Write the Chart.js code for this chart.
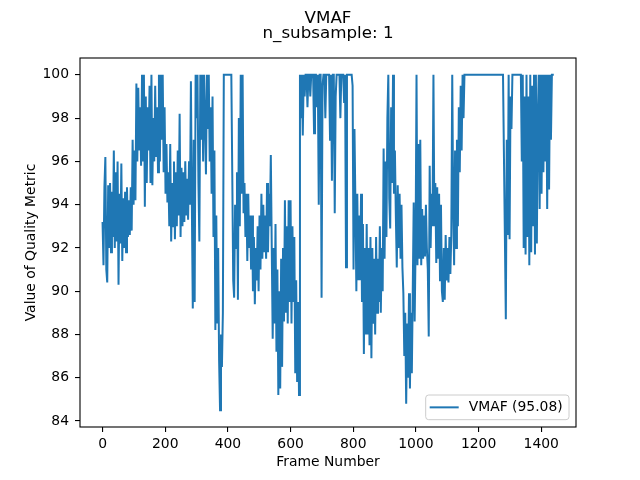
<!DOCTYPE html>
<html>
<head>
<meta charset="utf-8">
<script src="https://cdn.jsdelivr.net/npm/chart.js@4.4.0/dist/chart.umd.min.js"></script>
<style>
  html, body { margin: 0; padding: 0; background: #fff; }
  #wrap { width: 640px; height: 480px; }
</style>
</head>
<body>
<div id="wrap"><canvas id="vmafChart" width="640" height="480"></canvas></div>
<script>
// VMAF per frame, every 3 frames (0 .. 1440), one row = 60 frames
const vmaf = [
  93.2, 91.2, 94.8, 96.2, 91.0, 90.4, 94.9, 92.0, 95.0, 91.8, 94.6, 92.5, 96.5, 92.0, 95.5, 92.3, 96.0, 90.3, 94.5, 92.2,
  95.9, 91.4, 94.3, 92.0, 94.6, 91.8, 94.8, 92.5, 94.2, 92.6, 94.8, 92.8, 97.0, 94.0, 96.5, 94.2, 99.6, 96.0, 99.4, 96.5,
  98.5, 95.8, 100, 96.0, 100, 93.9, 99.0, 95.0, 98.5, 96.5, 99.5, 95.0, 100, 94.9, 98.0, 96.0, 99.5, 96.2, 98.5, 95.5,
  100, 96.0, 100, 97.0, 100, 95.5, 98.5, 94.5, 96.8, 94.1, 95.5, 93.0, 96.8, 92.3, 95.0, 93.0, 96.0, 92.4, 95.5, 93.0,
  96.5, 93.5, 98.2, 92.5, 95.7, 93.0, 95.5, 93.2, 96.0, 93.5, 95.2, 93.3, 96.0, 94.0, 99.7, 94.0, 89.2, 97.0, 89.5, 100,
  98.0, 100, 95.0, 92.3, 100, 97.0, 100, 96.0, 100, 98.0, 95.4, 100, 97.5, 100, 96.0, 98.5, 94.5, 99.0, 92.5, 96.5,
  88.2, 93.5, 88.5, 92.0, 86.8, 84.5, 88.0, 86.5, 89.0, 100, 100, 100, 100, 100, 100, 100, 100, 100, 95.4, 90.5,
  89.7, 94.0, 92.0, 95.5, 89.6, 98.0, 93.0, 100, 94.5, 100, 93.6, 95.0, 92.5, 94.5, 91.4, 94.5, 92.0, 93.5, 91.0, 93.5,
  90.0, 92.5, 89.4, 92.0, 90.5, 93.0, 90.0, 93.5, 91.0, 94.5, 91.5, 94.0, 91.8, 93.5, 91.5, 95.0, 91.8, 94.5, 93.0, 96.3,
  92.0, 87.8, 92.0, 88.5, 93.1, 87.2, 91.0, 85.2, 90.0, 85.5, 91.5, 86.5, 92.0, 88.6, 94.2, 89.0, 93.0, 88.5, 94.2, 89.5,
  94.2, 88.5, 93.0, 89.5, 92.5, 86.2, 90.5, 85.8, 89.5, 85.2, 100, 98.0, 100, 97.2, 100, 99.0, 100, 100, 98.5, 100,
  100, 99.0, 100, 100, 100, 97.3, 100, 100, 98.5, 100, 94.0, 100, 100, 89.7, 99.5, 100, 100, 98.0, 100, 100,
  100, 100, 97.0, 100, 95.1, 100, 100, 93.6, 99.0, 100, 100, 100, 100, 98.0, 100, 100, 100, 98.7, 100, 91.1,
  100, 100, 100, 100, 100, 100, 99.5, 91.0, 97.5, 94.0, 90.0, 94.5, 90.5, 93.5, 90.5, 94.5, 89.5, 93.1, 87.1, 92.0,
  88.0, 93.1, 88.0, 92.0, 87.5, 92.5, 86.9, 92.0, 88.5, 91.5, 88.0, 92.5, 89.0, 91.5, 89.5, 93.0, 89.0, 92.0, 90.0, 96.6,
  91.5, 96.0, 92.5, 98.0, 100, 94.3, 92.9, 98.5, 95.0, 100, 94.5, 96.5, 93.5, 91.1, 94.9, 92.0, 94.5, 91.5, 94.0, 91.1,
  89.9, 87.0, 89.0, 84.8, 88.5, 86.0, 89.9, 85.5, 89.0, 86.2, 90.0, 94.1, 88.6, 92.0, 100, 91.2, 96.8, 91.5, 97.0, 91.2,
  93.8, 91.5, 93.5, 91.6, 94.0, 92.0, 91.0, 87.9, 95.8, 92.0, 94.5, 93.0, 100, 93.0, 95.0, 91.3, 94.8, 91.5, 94.5, 90.5,
  94.0, 90.0, 89.5, 92.0, 89.6, 92.6, 90.5, 92.0, 90.4, 92.5, 90.8, 92.6, 100, 94.0, 91.2, 96.5, 92.0, 97.0, 93.0, 98.5,
  95.5, 99.5, 96.5, 100, 98.0, 100, 100, 100, 100, 100, 100, 100, 100, 100, 100, 100, 100, 100, 100, 100,
  100, 100, 100, 100, 100, 100, 100, 100, 100, 100, 100, 100, 100, 100, 100, 100, 100, 100, 100, 100,
  100, 100, 100, 100, 100, 100, 100, 100, 92.5, 88.7, 97.0, 92.6, 100, 92.4, 99.0, 97.5, 100, 100, 100, 100,
  100, 100, 100, 100, 100, 100, 96.0, 100, 92.0, 99.0, 91.7, 100, 92.5, 99.0, 91.2, 100, 91.8, 99.5, 93.0, 100,
  91.7, 100, 92.2, 98.0, 100, 93.8, 100, 94.5, 100, 95.5, 100, 96.0, 100, 93.8, 100, 94.7, 100, 97.0, 100, 100,
  100
];
const frameStep = 3;
const frames = vmaf.map((v, i) => i * frameStep);

const xTicks = [0, 200, 400, 600, 800, 1000, 1200, 1400];
const yTicks = [84, 86, 88, 90, 92, 94, 96, 98, 100];
const seriesLabel = 'VMAF (95.08)';
const titleLines = ['VMAF', 'n_subsample: 1'];

const FONT = '"DejaVu Sans", "Liberation Sans", sans-serif';
const BLUE = '#1f77b4';

// axes frame, legend box and the two title lines, drawn the matplotlib way
const decorations = {
  id: 'decorations',
  afterDatasetsDraw(chart) {
    const { ctx, chartArea: a } = chart;
    ctx.save();
    ctx.strokeStyle = '#000';
    ctx.lineWidth = 1.1;
    ctx.strokeRect(a.left, a.top, a.right - a.left, a.bottom - a.top);

    // legend, lower right
    const bx = a.right - 150.3, by = a.bottom - 32, bw = 143.3, bh = 24.7, r = 3;
    ctx.beginPath();
    ctx.moveTo(bx + r, by);
    ctx.arcTo(bx + bw, by, bx + bw, by + bh, r);
    ctx.arcTo(bx + bw, by + bh, bx, by + bh, r);
    ctx.arcTo(bx, by + bh, bx, by, r);
    ctx.arcTo(bx, by, bx + bw, by, r);
    ctx.closePath();
    ctx.fillStyle = 'rgba(255,255,255,0.8)';
    ctx.fill();
    ctx.strokeStyle = '#cccccc';
    ctx.lineWidth = 1;
    ctx.stroke();

    const ly = by + bh / 2;
    ctx.beginPath();
    ctx.moveTo(bx + 4, ly);
    ctx.lineTo(bx + 33, ly);
    ctx.strokeStyle = BLUE;
    ctx.lineWidth = 2;
    ctx.stroke();
    ctx.fillStyle = '#000';
    ctx.font = '13.9px ' + FONT;
    ctx.textBaseline = 'middle';
    ctx.textAlign = 'left';
    ctx.fillText(chart.data.datasets[0].label, bx + 43, ly + 0.5);

    // title
    const cx = (a.left + a.right) / 2;
    ctx.font = '16.7px ' + FONT;
    ctx.textAlign = 'center';
    ctx.textBaseline = 'alphabetic';
    ctx.fillText(titleLines[0], cx, 23);
    ctx.fillText(titleLines[1], cx, 38);
    ctx.restore();
  }
};

new Chart(document.getElementById('vmafChart').getContext('2d'), {
  type: 'line',
  data: {
    datasets: [{
      label: seriesLabel,
      data: frames.map((f, i) => ({ x: f, y: vmaf[i] })),
      borderColor: BLUE,
      backgroundColor: BLUE,
      borderWidth: 2,
      pointRadius: 0,
      tension: 0,
      fill: false
    }]
  },
  options: {
    responsive: false,
    animation: false,
    devicePixelRatio: 1,
    layout: { padding: { top: 58, right: 64, left: 0, bottom: 0 } },
    plugins: {
      legend: { display: false },
      title: { display: false },
      tooltip: { enabled: false }
    },
    scales: {
      x: {
        type: 'linear',
        min: -71.95,
        max: 1510.95,
        afterFit: function (scale) { scale.height = 53; },
        afterBuildTicks: function (scale) { scale.ticks = xTicks.map(v => ({ value: v })); },
        grid: { display: true, drawOnChartArea: false, tickLength: 5, color: '#000', lineWidth: 1.1 },
        border: { display: false },
        ticks: {
          color: '#000', padding: 4, maxRotation: 0,
          font: { family: FONT, size: 13.9 },
          callback: function (v) { return String(v); }
        },
        title: {
          display: true, text: 'Frame Number', color: '#000',
          font: { family: FONT, size: 13.9 }, padding: { top: 0, bottom: 9.7 }
        }
      },
      y: {
        type: 'linear',
        min: 83.72,
        max: 100.78,
        afterFit: function (scale) { scale.width = 80; },
        afterBuildTicks: function (scale) { scale.ticks = yTicks.map(v => ({ value: v })); },
        grid: { display: true, drawOnChartArea: false, tickLength: 5, color: '#000', lineWidth: 1.1 },
        border: { display: false },
        ticks: {
          color: '#000', padding: 6,
          font: { family: FONT, size: 13.9 },
          callback: function (v) { return String(v); }
        },
        title: {
          display: true, text: 'Value of Quality Metric', color: '#000',
          font: { family: FONT, size: 13.9 }, padding: { top: 22.7, bottom: 0 }
        }
      }
    }
  },
  plugins: [decorations]
});
</script>
</body>
</html>
